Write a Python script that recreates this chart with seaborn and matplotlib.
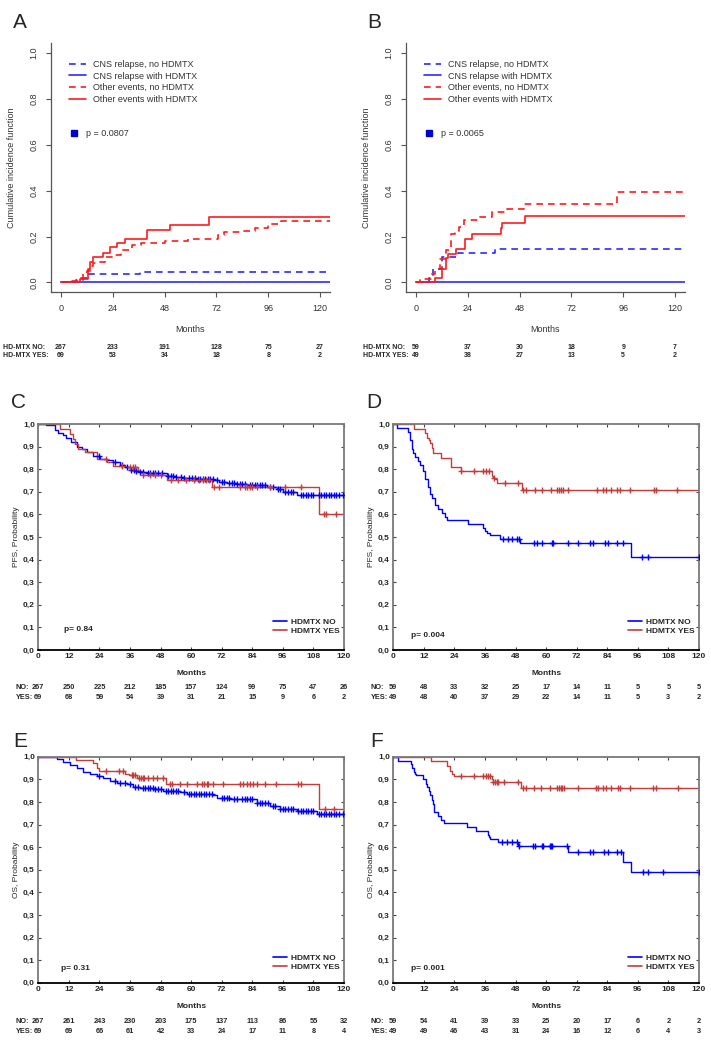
import numpy as np
import matplotlib
matplotlib.use('Agg')
import matplotlib.pyplot as plt
import pandas as pd
import seaborn as sns
from matplotlib.lines import Line2D
from matplotlib.ticker import FuncFormatter

sns.set_style('ticks')
plt.rcParams['font.family'] = ['Liberation Sans', 'DejaVu Sans']

# ---- panel A: cumulative incidence, all patients
a_cns_no_t = [0, 7, 10, 12.6, 36.6, 124.6]
a_cns_no_v = [0, 0.01, 0.02, 0.035, 0.047, 0.047]
a_cns_yes_t = [0, 124.6]
a_cns_yes_v = [0, 0]
a_oth_no_t = [0, 5, 8, 10, 12, 13.4, 15, 17, 20.4, 24, 28, 32.7, 37, 48, 59, 72.6, 75.7, 84, 90, 96, 102, 124.6]
a_oth_no_v = [0, 0.005, 0.02, 0.035, 0.05, 0.07, 0.083, 0.09, 0.112, 0.12, 0.141, 0.163, 0.173, 0.182, 0.19, 0.207, 0.218, 0.225, 0.236, 0.255, 0.269, 0.269]
a_oth_yes_t = [0, 8.8, 12.4, 13.5, 15, 19.4, 22.7, 25.8, 29.7, 39.7, 50.5, 68.6, 124.6]
a_oth_yes_v = [0, 0.016, 0.06, 0.09, 0.11, 0.127, 0.155, 0.172, 0.188, 0.228, 0.25, 0.284, 0.284]

# ---- panel B: cumulative incidence, subgroup
b_cns_no_t = [0, 6, 7.7, 11.9, 19.6, 36.6, 124.6]
b_cns_no_v = [0, 0.02, 0.06, 0.112, 0.129, 0.145, 0.145]
b_cns_yes_t = [0, 124.6]
b_cns_yes_v = [0, 0]
b_oth_no_t = [0, 2, 7, 9, 11, 14, 16, 18, 20, 22, 29, 35, 42, 50, 93.3, 124.6]
b_oth_no_v = [0, 0.015, 0.035, 0.06, 0.1, 0.14, 0.21, 0.225, 0.24, 0.27, 0.285, 0.305, 0.32, 0.34, 0.393, 0.393]
b_oth_yes_t = [0, 8.8, 12.2, 13.7, 15, 18.5, 22.7, 25.8, 39.2, 40, 50.5, 124.6]
b_oth_yes_v = [0, 0.02, 0.06, 0.105, 0.125, 0.146, 0.19, 0.21, 0.235, 0.26, 0.29, 0.29]

cif_labels = ['CNS relapse, no HDMTX', 'CNS relapse with HDMTX',
              'Other events, no HDMTX', 'Other events with HDMTX']
cif_ticks = [0, 24, 48, 72, 96, 120]
a_risk_no = [267, 233, 191, 128, 75, 27]
a_risk_yes = [69, 53, 34, 18, 8, 2]
b_risk_no = [59, 37, 30, 18, 9, 7]
b_risk_yes = [49, 38, 27, 13, 5, 2]

# ---- panel C: PFS, all patients
c_no_t = [0, 3, 6.5, 7.9, 9.5, 11, 13, 15, 17, 19, 21.5, 24.2, 27, 29.5, 32, 34, 36, 38, 40, 42.5, 50.4, 54, 57, 62, 68.7, 71, 74, 78, 82, 89.7, 93.6, 96.2, 101.4, 120]
c_no_v = [1, 0.995, 0.975, 0.96, 0.95, 0.94, 0.92, 0.90, 0.888, 0.878, 0.86, 0.845, 0.84, 0.833, 0.818, 0.81, 0.796, 0.79, 0.789, 0.782, 0.77, 0.765, 0.76, 0.757, 0.752, 0.745, 0.737, 0.733, 0.73, 0.723, 0.711, 0.70, 0.686, 0.686]
c_no_cens = [24, 30, 33, 35, 36.5, 37.5, 38.5, 40, 41, 43, 44, 45, 46, 47, 48.5, 51, 52, 53, 54, 56, 57, 59, 60.5, 61.5, 62.5, 63.5, 64.5, 65.5, 66.5, 67.5, 68.5, 70, 72, 73, 75, 76, 77, 78, 79, 80, 81, 83, 84, 85, 86, 87, 88, 89, 91, 92, 94, 95, 97, 98, 99, 100, 103, 104, 105, 106, 107, 108, 110, 111, 112, 113, 114, 115, 116, 117, 118, 119.5]
c_yes_t = [0, 8.5, 12.4, 13.5, 14.5, 15.5, 18.3, 22.9, 26.8, 29.5, 34, 39, 41, 50.4, 68, 110, 120]
c_yes_v = [1, 0.98, 0.955, 0.935, 0.91, 0.89, 0.875, 0.845, 0.83, 0.815, 0.81, 0.79, 0.776, 0.752, 0.72, 0.60, 0.60]
c_yes_cens = [26.6, 33, 36, 37, 38, 41, 44, 46, 48, 52, 55, 58, 61, 63, 64.5, 66, 67, 69, 71, 79, 81, 82, 83, 84, 86, 91, 97, 103, 112, 113, 117]

# ---- panel D: PFS, subgroup
d_no_t = [0, 1.3, 5.9, 6.5, 7.2, 7.9, 8.5, 9.8, 10.5, 11.8, 12.4, 13.7, 14.5, 15, 16.4, 17.7, 19.2, 20.3, 21, 29.5, 35.3, 36, 36.8, 38, 41.9, 49.7, 93.3, 120]
d_no_v = [1, 0.983, 0.965, 0.93, 0.89, 0.87, 0.855, 0.837, 0.82, 0.79, 0.755, 0.72, 0.69, 0.672, 0.64, 0.625, 0.607, 0.59, 0.575, 0.558, 0.54, 0.525, 0.516, 0.508, 0.493, 0.473, 0.413, 0.413]
d_no_cens = [43.2, 44.9, 46.7, 48.4, 49.5, 55.4, 56.3, 58.2, 62.2, 62.5, 68.7, 72.6, 77.2, 78.5, 83.1, 84.4, 87.7, 90.3, 97.8, 100.1, 120]
d_yes_t = [0, 8.2, 12.4, 13.2, 14, 14.4, 15, 15.7, 18.7, 22.6, 26.6, 38.6, 39.3, 40, 40.6, 50.4, 120]
d_yes_v = [1, 0.98, 0.96, 0.94, 0.93, 0.915, 0.895, 0.872, 0.851, 0.81, 0.79, 0.77, 0.76, 0.755, 0.738, 0.71, 0.71]
d_yes_cens = [26.6, 31.8, 35.3, 36.4, 37.6, 39.7, 43.8, 48.8, 51, 52, 55.6, 58.2, 61.9, 64.1, 65, 65.8, 66.8, 68.5, 80.1, 82.5, 83.4, 85.3, 88, 89, 92.9, 102.4, 103.1, 111.5]

# ---- panel E: OS, all patients
e_no_t = [0, 4.6, 7.2, 9.8, 12.4, 15, 17.7, 20.3, 22.9, 25.5, 28.1, 30.8, 34.7, 37.3, 39.9, 45.2, 49.1, 55.6, 58.2, 68.7, 70, 75.3, 85.7, 91, 94.9, 101.4, 109.3, 120]
e_no_v = [1, 0.997, 0.988, 0.978, 0.963, 0.948, 0.934, 0.923, 0.914, 0.907, 0.894, 0.885, 0.878, 0.867, 0.861, 0.855, 0.85, 0.842, 0.835, 0.83, 0.819, 0.813, 0.794, 0.782, 0.77, 0.76, 0.745, 0.745]
e_no_cens = [24, 30, 32, 34, 36, 38, 39, 41, 42, 43, 44, 45, 46, 47, 48, 50, 51, 52, 53, 54, 55, 57, 59, 60, 61, 62, 63, 64, 65, 66, 67, 68, 72, 73, 74, 75, 77, 78, 80, 81, 82, 83, 84, 86, 87, 88, 89, 90, 92, 93, 95, 96, 97, 98, 99, 100, 102, 103, 104, 105, 106, 107, 108, 110, 111, 112, 113, 114, 115, 116, 117, 118, 119.5]
e_yes_t = [0, 14.8, 21.3, 22.9, 24, 34, 35.5, 38.6, 50, 110, 120]
e_yes_v = [1, 0.985, 0.97, 0.951, 0.938, 0.925, 0.918, 0.905, 0.877, 0.768, 0.768]
e_yes_cens = [26.6, 31.8, 33.4, 36.6, 37.3, 37.9, 39.7, 40.2, 41, 41.5, 43.2, 45.2, 46.5, 49.1, 51.7, 52.4, 55.6, 58.2, 62.2, 64.1, 65.1, 66.1, 66.8, 68.7, 72.6, 79.2, 80.5, 81.8, 83.1, 84.2, 85.7, 89, 93.3, 102.1, 103.1, 112.6, 116.2]

# ---- panel F: OS, subgroup
f_no_t = [0, 2, 6.9, 7.4, 8.2, 8.5, 8.8, 11.8, 12.7, 13.4, 14, 14.5, 15, 15.6, 16.1, 17.4, 18.7, 20, 28.8, 32.3, 37, 37.6, 38, 41, 49.1, 68.5, 90.3, 93.3, 120]
f_no_v = [1, 0.983, 0.966, 0.95, 0.933, 0.925, 0.917, 0.90, 0.88, 0.865, 0.848, 0.83, 0.81, 0.79, 0.755, 0.738, 0.72, 0.705, 0.688, 0.672, 0.655, 0.645, 0.638, 0.623, 0.605, 0.577, 0.533, 0.488, 0.488]
f_no_cens = [42.5, 44.5, 46.5, 48.4, 49.3, 55, 55.6, 58.2, 58.6, 61.5, 61.9, 62.4, 68.3, 72.4, 77.2, 78.5, 82.9, 84.2, 87.7, 89.5, 98.2, 99.9, 105.8, 120]
f_yes_t = [0, 14.8, 20.9, 22.3, 22.9, 24, 38.6, 39.2, 50, 120]
f_yes_v = [1, 0.98, 0.959, 0.938, 0.925, 0.915, 0.90, 0.89, 0.86, 0.86]
f_yes_cens = [26.6, 31.8, 35.1, 36.3, 37.3, 37.9, 39.3, 40, 40.6, 41.2, 43.6, 48.8, 51, 52, 55.4, 58, 61.5, 64.1, 65, 65.8, 66.4, 67.1, 72.4, 79.5, 80.2, 82.5, 83.4, 85.5, 88.1, 89, 92.9, 102.1, 103, 111.6]

km_ticks = list(range(0, 121, 12))
c_risk_no = [267, 250, 225, 212, 185, 157, 124, 99, 75, 47, 26]
c_risk_yes = [69, 68, 59, 54, 39, 31, 21, 15, 9, 6, 2]
d_risk_no = [59, 48, 33, 32, 25, 17, 14, 11, 5, 5, 5]
d_risk_yes = [49, 48, 40, 37, 29, 22, 14, 11, 5, 3, 2]
e_risk_no = [267, 261, 243, 230, 203, 175, 137, 113, 86, 55, 32]
e_risk_yes = [69, 69, 66, 61, 42, 33, 24, 17, 11, 8, 4]
f_risk_no = [59, 54, 41, 39, 33, 25, 20, 17, 6, 2, 2]
f_risk_yes = [49, 49, 46, 43, 31, 24, 16, 12, 6, 4, 3]

CIF_BLUE = '#2b2bff'
CIF_RED = '#ff1a1a'
KM_BLUE = '#0000ff'
KM_RED = '#c43c3c'

W, H = 711, 1040
fig = plt.figure(figsize=(W / 100, H / 100), dpi=100)


def rect(left, top, right, bottom):
    return [left / W, 1 - bottom / H, (right - left) / W, (bottom - top) / H]


def step(ax, t, v, color, ls='-', lw=1.1):
    df = pd.DataFrame({'t': t, 'v': v})
    sns.lineplot(data=df, x='t', y='v', ax=ax, color=color, linestyle=ls,
                 linewidth=lw, drawstyle='steps-post', estimator=None, sort=False)


def censor(ax, t, v, times, color):
    idx = np.searchsorted(t, times, side='right') - 1
    ys = np.asarray(v)[idx]
    sns.scatterplot(x=times, y=ys, ax=ax, marker='+', color=color, s=18,
                    linewidth=1.0, zorder=4)


def cif_panel(box, curves, pval, risk_no, risk_yes, lab_x):
    ax = fig.add_axes(rect(*box))
    dash = (0, (4, 3))
    styles = [(CIF_BLUE, dash), (CIF_BLUE, '-'), (CIF_RED, dash), (CIF_RED, '-')]
    for (t, v), (c, ls) in zip(curves, styles):
        step(ax, t, v, c, ls, lw=1.2)
    ax.set_xlim(-4.8, 124.6)
    ax.set_ylim(-0.042, 1.044)
    ax.set_xticks(cif_ticks)
    ax.set_yticks(np.arange(0, 1.01, 0.2))
    ax.yaxis.set_major_formatter(FuncFormatter(lambda y, _: f'{y:.1f}'))
    sns.despine(ax=ax)
    for s in ['left', 'bottom']:
        ax.spines[s].set_color('#555555')
        ax.spines[s].set_linewidth(0.9)
    ax.tick_params(length=3.6, width=0.8, color='#555555', labelsize=6.5,
                   labelcolor='#333333', pad=5)
    for lab in ax.get_yticklabels():
        lab.set_rotation(90)
        lab.set_va('center')
    ax.set_xlabel('Months', fontsize=6.5, color='#333333', labelpad=9)
    ax.set_ylabel('Cumulative incidence function', fontsize=6.5,
                  color='#333333', labelpad=10)
    handles = [Line2D([], [], color=c, linestyle=ls, linewidth=1.2) for c, ls in styles]
    leg1 = ax.legend(handles, cif_labels, loc='upper left', bbox_to_anchor=(0.0655, 0.932),
                     frameon=False, fontsize=6.5, handlelength=1.9, handletextpad=0.78,
                     labelspacing=0.29, borderpad=0, borderaxespad=0)
    for txt in leg1.get_texts():
        txt.set_color('#333333')
    ax.add_artist(leg1)
    ph = Line2D([], [], color='#0000cc', marker='s', linestyle='none', markersize=5)
    leg2 = ax.legend([ph], [pval], loc='upper left', bbox_to_anchor=(0.0673, 0.655),
                     frameon=False, fontsize=6.5, handlelength=1.0, handletextpad=0.83,
                     borderpad=0, borderaxespad=0)
    leg2.get_texts()[0].set_color('#333333')
    tr = ax.get_xaxis_transform()
    for row_y, name, vals in [(-0.221, 'HD-MTX NO:', risk_no), (-0.257, 'HD-MTX YES:', risk_yes)]:
        ax.text(lab_x, row_y, name, transform=ax.transAxes, ha='left', va='center',
                fontsize=5, fontweight='bold')
        for x, n in zip(cif_ticks, vals):
            ax.text(x, row_y, str(n), transform=tr, ha='center', va='center',
                    fontsize=5, fontweight='bold')
    return ax


def km_panel(box, curves, ylabel, pval, p_xy, leg_y, risk_no, risk_yes, risk_y):
    ax = fig.add_axes(rect(*box))
    (tn, vn, cn), (ty, vy, cy) = curves
    step(ax, tn, vn, KM_BLUE, lw=1.0)
    censor(ax, tn, vn, cn, KM_BLUE)
    step(ax, ty, vy, KM_RED, lw=1.0)
    censor(ax, ty, vy, cy, KM_RED)
    ax.set_xlim(0, 120)
    ax.set_ylim(0, 1)
    ax.set_xticks(km_ticks)
    ax.set_yticks(np.round(np.arange(0, 1.01, 0.1), 1))
    ax.yaxis.set_major_formatter(FuncFormatter(lambda y, _: f'{y:.1f}'.replace('.', ',')))
    for s in ax.spines.values():
        s.set_color('#7a7a7a')
        s.set_linewidth(1.3)
    ax.spines['bottom'].set_color('black')
    ax.tick_params(direction='in', length=2.5, width=0.8, top=True, right=True,
                   labelsize=6, pad=2.5, color='#444444')
    for lab in ax.get_xticklabels() + ax.get_yticklabels():
        lab.set_fontweight('bold')
    ax.set_xlabel('Months', fontsize=6, fontweight='bold', labelpad=7)
    ax.set_ylabel(ylabel, fontsize=6, labelpad=2)
    handles = [Line2D([], [], color=KM_BLUE, linewidth=1.2), Line2D([], [], color=KM_RED, linewidth=1.2)]
    ax.legend(handles, ['HDMTX NO', 'HDMTX YES'], loc='upper left',
              bbox_to_anchor=(0.768, leg_y), frameon=False, handlelength=1.68,
              handletextpad=0.48, labelspacing=0.1, borderpad=0, borderaxespad=0,
              prop={'size': 6, 'weight': 'bold'})
    ax.text(p_xy[0], p_xy[1], pval, transform=ax.transAxes, ha='left', va='center',
            fontsize=6, fontweight='bold')
    tr = ax.get_xaxis_transform()
    for row_y, name, vals in [(risk_y[0], 'NO:', risk_no), (risk_y[1], 'YES:', risk_yes)]:
        ax.text(-0.0735, row_y, name, transform=ax.transAxes, ha='left', va='center',
                fontsize=5.3, fontweight='bold')
        for x, n in zip(km_ticks, vals):
            ax.text(x, row_y, str(n), transform=tr, ha='center', va='center',
                    fontsize=5.3, fontweight='bold')
    return ax


cif_panel((50.7, 43, 330, 292),
          [(a_cns_no_t, a_cns_no_v), (a_cns_yes_t, a_cns_yes_v),
           (a_oth_no_t, a_oth_no_v), (a_oth_yes_t, a_oth_yes_v)],
          'p = 0.0807', a_risk_no, a_risk_yes, -0.172)
cif_panel((405.7, 43, 685, 292),
          [(b_cns_no_t, b_cns_no_v), (b_cns_yes_t, b_cns_yes_v),
           (b_oth_no_t, b_oth_no_v), (b_oth_yes_t, b_oth_yes_v)],
          'p = 0.0065', b_risk_no, b_risk_yes, -0.152)

km_panel((38.3, 424, 344, 650), [(c_no_t, c_no_v, c_no_cens), (c_yes_t, c_yes_v, c_yes_cens)],
         'PFS, Probability', 'p= 0.84', (0.085, 0.0885), 0.1407,
         c_risk_no, c_risk_yes, (-0.164, -0.208))
km_panel((393.3, 424, 699, 650), [(d_no_t, d_no_v, d_no_cens), (d_yes_t, d_yes_v, d_yes_cens)],
         'PFS, Probability', 'p= 0.004', (0.058, 0.062), 0.1407,
         d_risk_no, d_risk_yes, (-0.164, -0.208))
km_panel((38.3, 756.7, 344, 982.7), [(e_no_t, e_no_v, e_no_cens), (e_yes_t, e_yes_v, e_yes_cens)],
         'OS, Probability', 'p= 0.31', (0.0744, 0.0637), 0.1248,
         e_risk_no, e_risk_yes, (-0.1726, -0.2168))
km_panel((393.3, 756.7, 699, 982.7), [(f_no_t, f_no_v, f_no_cens), (f_yes_t, f_yes_v, f_yes_cens)],
         'OS, Probability', 'p= 0.001', (0.058, 0.0637), 0.1248,
         f_risk_no, f_risk_yes, (-0.1726, -0.2168))

for letter, x, y in [('A', 20, 23), ('B', 374, 23), ('C', 19, 403),
                     ('D', 374, 403), ('E', 20, 741.7), ('F', 376.7, 741.7)]:
    fig.text(x / W, 1 - y / H, letter, fontsize=15, ha='center', va='center')

fig.savefig('out.png', dpi=100)
